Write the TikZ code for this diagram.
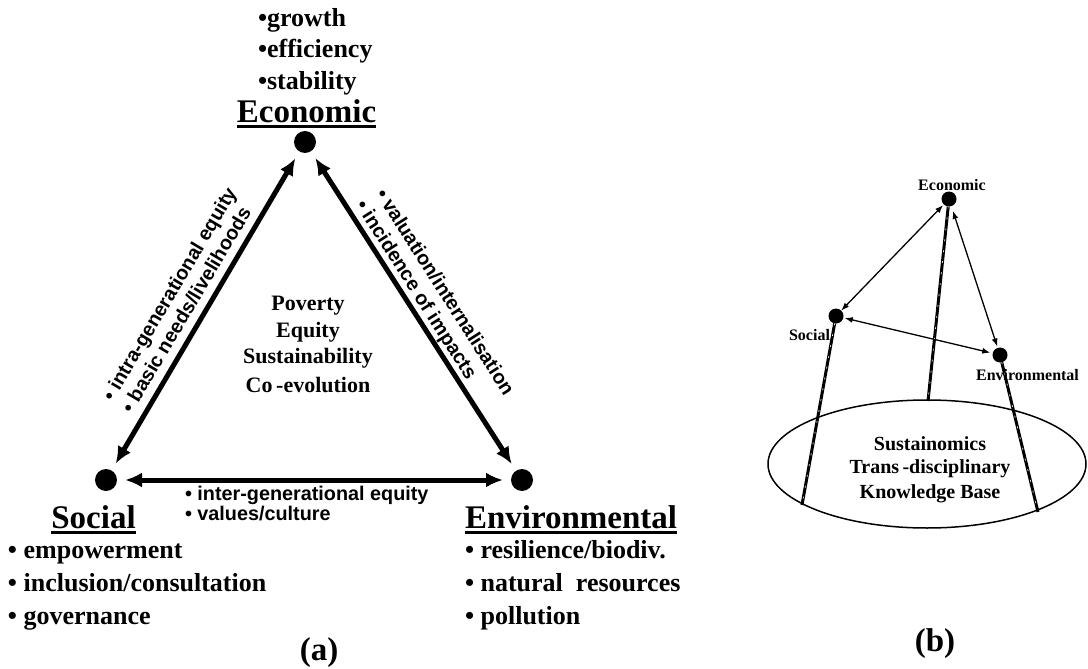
\documentclass[tikz,border=0pt]{standalone}
\usepackage{fontspec}
\setmainfont{Liberation Serif}
\newfontfamily\arialfont{Liberation Sans}
\usetikzlibrary{arrows.meta,shapes.geometric}
\newcommand\thul[1]{\setbox0=\hbox{#1}\rlap{\rule[-6pt]{\wd0}{3.5pt}}\box0}
\begin{document}
\begin{tikzpicture}[x=1pt,y=-1pt,
  every node/.style={inner sep=0pt, outer sep=0pt},
  dot/.style={circle, fill=black, minimum size=22pt},
  sdot/.style={circle, fill=black, minimum size=15pt},
  head/.style={font=\fontsize{33}{33}\selectfont\bfseries, anchor=base},
  item/.style={font=\fontsize{26}{31}\selectfont\bfseries, anchor=base west},
  core/.style={font=\fontsize{22}{27}\selectfont\bfseries, anchor=base},
  elab/.style={font=\arialfont\fontsize{19.8}{22}\selectfont\bfseries, anchor=base west},
  small/.style={font=\fontsize{16}{18}\selectfont\bfseries, anchor=base},
  kbtext/.style={font=\fontsize{20}{24}\selectfont\bfseries, anchor=base},
  bigarrow/.style={line width=5pt, {Latex[length=17pt,width=15pt]}-{Latex[length=17pt,width=15pt]}, shorten <=8pt, shorten >=8pt},
  thinarrow/.style={line width=1.3pt, {Latex[length=8pt,width=6pt]}-{Latex[length=8pt,width=6pt]}},
  pillar/.style={line width=3pt, postaction={draw=white, line width=0.6pt, dash pattern=on 2pt off 9pt}}
]
\fill[white] (0,0) rectangle (1088,669);
\useasboundingbox (0,0) rectangle (1088,669);

% ---------- panel (a) ----------
\node[item] (g1) at (258,27) {•growth};
\node[item] (g2) at (258,58) {•efficiency};
\node[item] (g3) at (258,89) {•stability};
\node[head] (ecoT) at (306.5,122) {\thul{Economic}};

\node[dot] (eco) at (305,142) {};
\node[dot] (soc) at (106,480) {};
\node[dot] (env) at (522,480) {};

\draw[bigarrow] (soc) -- (eco);
\draw[bigarrow] (eco) -- (env);
\draw[bigarrow] (soc) -- (env);

\node[core] (c1) at (308,310) {Poverty};
\node[core] (c2) at (308,337) {Equity};
\node[core] (c3) at (308,363) {Sustainability};
\node[core] (c4) at (308,392) {Co\,-evolution};

\node[elab, rotate=59.3] (l1) at (113,402) {• intra-generational equity};
\node[elab, rotate=59.3] (l2) at (132,414) {• basic needs/livelihoods};
\node[elab, rotate=-57.5] (r1) at (375,194) {• valuation/internalisation};
\node[elab, rotate=-57.5] (r2) at (355,205) {• incidence of impacts};
\node[elab] (b1) at (185,500) {• inter-generational equity};
\node[elab] (b2) at (185,520) {• values/culture};

\node[head] (socT) at (93.5,528) {\thul{Social}};
\node[item] (s1) at (8,558) {• empowerment};
\node[item] (s2i) at (8,591) {• inclusion/consultation};
\node[item] (s3) at (8,624) {• governance};

\node[head, anchor=base west] (envT) at (465,528) {\thul{Environmental}};
\node[item] (v1) at (465,558) {• resilience/biodiv.};
\node[item] (v2i) at (465,591) {• natural\ \ resources};
\node[item] (v3) at (465,624) {• pollution};

\node[head] (la) at (319,660) {(a)};

% ---------- panel (b) ----------
\node[ellipse, draw, line width=1.5pt, minimum width=318pt, minimum height=128pt] (kb) at (927,464) {};
\coordinate (ks) at (802,505);
\coordinate (ke) at (928,401);
\coordinate (kv) at (1038,512);

\node[sdot] (e2) at (949,199) {};
\node[sdot] (s2) at (836,316) {};
\node[sdot] (v2) at (1000,355) {};

\draw[pillar] (s2) -- (ks);
\draw[pillar] (e2) -- (ke);
\draw[pillar] (v2) -- (kv);

\draw[thinarrow, shorten <=1pt] (e2) -- (s2);
\draw[thinarrow, shorten <=5pt, shorten >=1.5pt] (e2) -- (v2);
\draw[thinarrow, shorten <=1.5pt, shorten >=2.5pt] (s2) -- (v2);

\node[small] (e2T) at (952,190) {Economic};
\node[small] (s2T) at (809.5,340) {Social};
\node[small] (v2T) at (1027.5,380) {Environmental};

\node[kbtext] (k1) at (930,450) {Sustainomics};
\node[kbtext] (k2) at (930,473) {Trans\,-disciplinary};
\node[kbtext] (k3) at (930,498) {Knowledge Base};

\node[head] (lb) at (935,651) {(b)};
\end{tikzpicture}
\end{document}
